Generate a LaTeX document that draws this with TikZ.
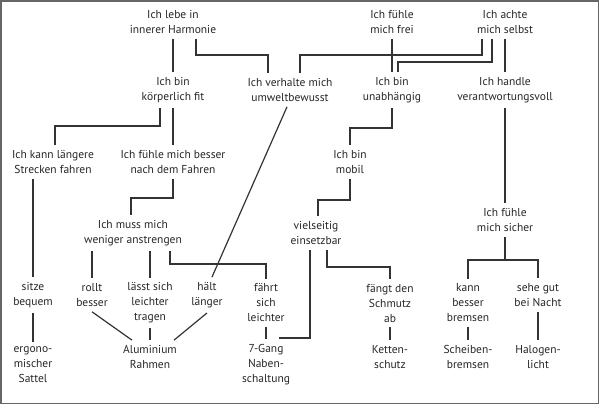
\documentclass[tikz,border=0pt]{standalone}
\usepackage{fontspec}
\setmainfont{PT Sans}
\begin{document}
\begin{tikzpicture}[x=1pt,y=-1pt,
  t/.style={align=center,inner xsep=2pt,inner ysep=5pt,font=\fontsize{11.5}{15}\selectfont,text=black!85},
  l/.style={draw=black!80,line width=1.2pt}]
\useasboundingbox (0,0) rectangle (600,406);
\draw[draw=black!60,line width=1.5pt] (1,1) rectangle (598.5,403.5);
\node[t] (harm) at (173,22) {Ich lebe in\\innerer Harmonie};
\node[t] (frei) at (392,22) {Ich fühle\\mich frei};
\node[t] (selbst) at (505,22) {Ich achte\\mich selbst};
\node[t] (fit) at (173,90) {Ich bin\\körperlich fit};
\node[t] (umwelt) at (290,90) {Ich verhalte mich\\umweltbewusst};
\node[t] (unab) at (392,90) {Ich bin\\unabhängig};
\node[t] (verant) at (505,90) {Ich handle\\verantwortungsvoll};
\node[t] (lang) at (53,162) {Ich kann längere\\Strecken fahren};
\node[t] (besser) at (173,162) {Ich fühle mich besser\\nach dem Fahren};
\node[t] (mobil) at (350,162) {Ich bin\\mobil};
\node[t] (muss) at (133,233) {Ich muss mich\\weniger anstrengen};
\node[t] (viel) at (316,233) {vielseitig\\einsetzbar};
\node[t] (sicher) at (505,220) {Ich fühle\\mich sicher};
\node[t] (sitze) at (33,295) {sitze\\bequem};
\node[t] (rollt) at (92,295) {rollt\\besser};
\node[t] (lasst) at (150,303) {lässt sich\\leichter\\tragen};
\node[t] (halt) at (207,295) {hält\\länger};
\node[t] (fahrt) at (266,303) {fährt\\sich\\leichter};
\node[t] (fangt) at (390,303) {fängt den\\Schmutz\\ab};
\node[t] (kann) at (468,303) {kann\\besser\\bremsen};
\node[t] (sehe) at (538,295) {sehe gut\\bei Nacht};
\node[t] (sattel) at (33,365) {ergono-\\mischer\\Sattel};
\node[t] (alu) at (150,357) {Aluminium\\Rahmen};
\node[t] (gang) at (266,365) {7-Gang\\Naben-\\schaltung};
\node[t] (kette) at (390,357) {Ketten-\\schutz};
\node[t] (scheibe) at (468,357) {Scheiben-\\bremsen};
\node[t] (halo) at (538,357) {Halogen-\\licht};
% connectors
\draw[l] (harm.south) -- (fit.north);
\draw[l] ([xshift=23]harm.south) |- (268,55) -- ([xshift=-22]umwelt.north);
\draw[l] (frei.south) -- (unab.north);
\draw[l] ([xshift=-23]selbst.south) |- (300,55) -- ([xshift=10]umwelt.north);
\draw[l] ([xshift=-13]selbst.south) |- (398,62) -- ([xshift=6]unab.north);
\draw[l] (selbst.south) -- (verant.north);
\draw[l] ([xshift=-13]fit.south) |- (55,126) -- ([xshift=2]lang.north);
\draw[l] (fit.south) -- (besser.north);
\draw[l] ([xshift=-3]umwelt.south) -- ([xshift=5]halt.north);
\draw[l] (unab.south) |- (350,128) -- (mobil.north);
\draw[l] (besser.south) |- (131,198) -- ([xshift=-2]muss.north);
\draw[l] (mobil.south) |- (318,200) -- ([xshift=2]viel.north);
\draw[l] ([xshift=-6]viel.south) |- (280,338) -- ([xshift=14]gang.north);
\draw[l] ([xshift=11]viel.south) |- (390,267) -- (fangt.north);
\draw[l] (verant.south) -- (sicher.north);
\draw[l] (sicher.south) |- (468,260) -- (kann.north);
\draw[l] (sicher.south) |- (538,260) -- (sehe.north);
\draw[l] (muss.south -| rollt) -- (rollt.north);
\draw[l] (muss.south -| lasst) -- (lasst.north);
\draw[l] ([xshift=37]muss.south) |- (266,264) -- (fahrt.north);
\draw[l] (lang.south -| sitze) -- (sitze.north);
\draw[l] (sitze.south) -- (sattel.north);
\draw[l] (rollt.south) -- ([xshift=-18]alu.north);
\draw[l] (lasst.south) -- (alu.north);
\draw[l] (halt.south) -- ([xshift=24]alu.north);
\draw[l] (fahrt.south) -- (gang.north);
\draw[l] (fangt.south) -- (kette.north);
\draw[l] (kann.south) -- (scheibe.north);
\draw[l] (sehe.south) -- (halo.north);
\end{tikzpicture}
\end{document}
